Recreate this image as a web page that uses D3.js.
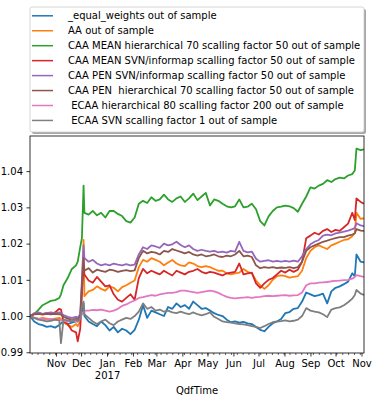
<!DOCTYPE html>
<html><head><meta charset="utf-8">
<script src="https://cdn.jsdelivr.net/npm/d3@7"></script>
<style>
html,body{margin:0;padding:0;background:#fff;}
text{font-family:"DejaVu Sans",sans-serif;font-size:10px;fill:#000;}
</style></head>
<body>
<svg id="chart" width="387" height="401"></svg>
<script>
const dates = ["2016-10-01","2016-10-06","2016-10-11","2016-10-16","2016-10-21","2016-10-26","2016-10-31","2016-11-05","2016-11-07","2016-11-10",
"2016-11-15","2016-11-20","2016-11-25","2016-11-27","2016-11-30","2016-12-02","2016-12-04","2016-12-05","2016-12-10","2016-12-15",
"2016-12-20","2016-12-25","2016-12-30","2017-01-04","2017-01-09","2017-01-14","2017-01-19","2017-01-24","2017-01-29","2017-02-03",
"2017-02-08","2017-02-13","2017-02-18","2017-02-23","2017-02-28","2017-03-05","2017-03-10","2017-03-15","2017-03-20","2017-03-25",
"2017-03-30","2017-04-04","2017-04-09","2017-04-14","2017-04-19","2017-04-24","2017-04-29","2017-05-04","2017-05-09","2017-05-14",
"2017-05-19","2017-05-24","2017-05-29","2017-06-03","2017-06-08","2017-06-13","2017-06-18","2017-06-23","2017-06-28","2017-07-03",
"2017-07-08","2017-07-13","2017-07-18","2017-07-23","2017-07-28","2017-08-02","2017-08-07","2017-08-12","2017-08-17","2017-08-22",
"2017-08-27","2017-09-01","2017-09-06","2017-09-11","2017-09-16","2017-09-21","2017-09-26","2017-10-01","2017-10-06","2017-10-11",
"2017-10-16","2017-10-21","2017-10-24","2017-10-26","2017-10-31","2017-11-04"];

const equalWeights = [1.0000,0.9985,0.9978,0.9975,0.9970,0.9972,0.9968,0.9975,0.9980,0.9985,
0.9978,0.9982,0.9985,0.9988,0.9990,1.0010,1.0035,1.0000,0.9985,0.9978,
0.9972,0.9985,0.9975,0.9960,0.9970,0.9955,0.9965,0.9960,0.9950,0.9962,
0.9990,1.0030,0.9995,1.0015,1.0010,1.0005,1.0000,1.0025,1.0020,1.0035,
1.0025,1.0030,1.0020,1.0040,1.0030,1.0020,1.0022,1.0015,1.0008,1.0003,
1.0000,0.9990,0.9983,0.9985,0.9982,0.9984,0.9980,0.9978,0.9970,0.9962,
0.9958,0.9970,0.9980,0.9985,0.9992,1.0008,1.0011,1.0020,1.0022,1.0040,
1.0065,1.0060,1.0055,1.0058,1.0062,1.0035,1.0068,1.0078,1.0082,1.0088,
1.0095,1.0118,1.0110,1.0170,1.0150,1.0148];

const aa = [1.0000,0.9995,0.9992,0.9995,0.9993,0.9990,0.9993,0.9995,0.9992,0.9982,
0.9975,0.9970,0.9978,0.9972,0.9985,1.0080,1.0210,1.0055,1.0068,1.0072,
1.0082,1.0075,1.0070,1.0082,1.0078,1.0068,1.0080,1.0085,1.0092,1.0098,
1.0135,1.0155,1.0150,1.0160,1.0155,1.0150,1.0140,1.0148,1.0155,1.0145,
1.0140,1.0138,1.0148,1.0145,1.0138,1.0135,1.0138,1.0135,1.0130,1.0125,
1.0125,1.0118,1.0115,1.0118,1.0120,1.0130,1.0122,1.0118,1.0098,1.0085,
1.0075,1.0085,1.0100,1.0110,1.0112,1.0110,1.0106,1.0108,1.0110,1.0125,
1.0160,1.0180,1.0190,1.0195,1.0190,1.0185,1.0195,1.0200,1.0205,1.0210,
1.0212,1.0220,1.0230,1.0285,1.0268,1.0270];

const caaMeanHier = [1.0000,1.0005,1.0017,1.0030,1.0036,1.0042,1.0044,1.0050,1.0060,1.0085,
1.0105,1.0130,1.0140,1.0150,1.0190,1.0215,1.0360,1.0285,1.0280,1.0290,
1.0278,1.0285,1.0272,1.0290,1.0290,1.0282,1.0276,1.0262,1.0258,1.0272,
1.0310,1.0318,1.0312,1.0328,1.0318,1.0322,1.0335,1.0322,1.0315,1.0325,
1.0330,1.0315,1.0325,1.0338,1.0320,1.0330,1.0340,1.0305,1.0322,1.0318,
1.0310,1.0303,1.0300,1.0303,1.0322,1.0300,1.0302,1.0310,1.0295,1.0262,
1.0250,1.0275,1.0290,1.0300,1.0302,1.0305,1.0303,1.0298,1.0288,1.0310,
1.0330,1.0355,1.0352,1.0360,1.0365,1.0375,1.0370,1.0378,1.0382,1.0380,
1.0388,1.0392,1.0402,1.0462,1.0458,1.0460];

const caaMeanSvn = [1.0000,1.0005,1.0008,1.0005,1.0008,1.0005,1.0010,1.0020,1.0018,0.9985,
0.9978,0.9960,0.9955,0.9930,0.9965,1.0060,1.0140,1.0115,1.0098,1.0092,
1.0108,1.0095,1.0082,1.0085,1.0060,1.0045,1.0040,1.0050,1.0060,1.0045,
1.0105,1.0130,1.0118,1.0125,1.0120,1.0115,1.0125,1.0118,1.0112,1.0125,
1.0120,1.0115,1.0122,1.0125,1.0130,1.0122,1.0118,1.0122,1.0120,1.0116,
1.0112,1.0118,1.0120,1.0122,1.0145,1.0115,1.0118,1.0120,1.0090,1.0078,
1.0090,1.0100,1.0105,1.0115,1.0125,1.0120,1.0128,1.0122,1.0128,1.0150,
1.0215,1.0222,1.0230,1.0225,1.0235,1.0240,1.0232,1.0238,1.0235,1.0245,
1.0255,1.0285,1.0265,1.0325,1.0315,1.0310];

const caaPenSvn = [1.0000,1.0008,1.0010,1.0006,1.0008,1.0010,1.0008,1.0010,1.0008,1.0003,
0.9998,0.9995,0.9998,0.9995,1.0005,1.0100,1.0195,1.0160,1.0150,1.0155,
1.0145,1.0140,1.0143,1.0140,1.0145,1.0142,1.0140,1.0143,1.0140,1.0142,
1.0170,1.0190,1.0185,1.0195,1.0192,1.0188,1.0200,1.0195,1.0198,1.0205,
1.0196,1.0190,1.0195,1.0185,1.0180,1.0183,1.0180,1.0178,1.0180,1.0176,
1.0178,1.0175,1.0180,1.0178,1.0205,1.0180,1.0176,1.0178,1.0158,1.0150,
1.0152,1.0154,1.0150,1.0152,1.0150,1.0152,1.0150,1.0153,1.0150,1.0165,
1.0185,1.0198,1.0205,1.0210,1.0222,1.0225,1.0223,1.0228,1.0230,1.0233,
1.0236,1.0240,1.0243,1.0256,1.0250,1.0248];

const caaPenHier = [1.0000,1.0005,1.0006,1.0004,1.0006,1.0005,1.0006,1.0005,1.0004,0.9998,
0.9993,0.9990,0.9992,0.9990,1.0000,1.0080,1.0160,1.0125,1.0132,1.0120,
1.0128,1.0125,1.0122,1.0128,1.0126,1.0122,1.0125,1.0127,1.0124,1.0126,
1.0160,1.0180,1.0173,1.0177,1.0175,1.0170,1.0180,1.0177,1.0185,1.0181,
1.0177,1.0173,1.0177,1.0170,1.0167,1.0170,1.0165,1.0167,1.0170,1.0165,
1.0163,1.0167,1.0165,1.0170,1.0180,1.0165,1.0167,1.0163,1.0140,1.0132,
1.0135,1.0133,1.0135,1.0132,1.0134,1.0133,1.0135,1.0132,1.0135,1.0150,
1.0180,1.0190,1.0195,1.0200,1.0205,1.0208,1.0212,1.0215,1.0218,1.0218,
1.0222,1.0225,1.0228,1.0240,1.0236,1.0235];

const ecaaHier = [1.0000,0.9995,0.9993,0.9992,0.9990,0.9992,0.9990,0.9988,0.9990,0.9986,
0.9985,0.9988,0.9985,0.9984,0.9992,1.0005,1.0012,1.0015,1.0015,1.0017,
1.0016,1.0018,1.0015,1.0012,1.0015,1.0020,1.0028,1.0032,1.0038,1.0043,
1.0050,1.0052,1.0055,1.0058,1.0056,1.0060,1.0062,1.0064,1.0064,1.0066,
1.0070,1.0070,1.0068,1.0066,1.0064,1.0066,1.0068,1.0070,1.0068,1.0064,
1.0058,1.0053,1.0050,1.0049,1.0050,1.0051,1.0052,1.0050,1.0052,1.0053,
1.0055,1.0056,1.0055,1.0056,1.0057,1.0058,1.0056,1.0057,1.0058,1.0065,
1.0085,1.0090,1.0090,1.0092,1.0093,1.0094,1.0096,1.0097,1.0098,1.0099,
1.0100,1.0103,1.0108,1.0113,1.0110,1.0108];

const ecaaSvn = [1.0000,0.9995,0.9990,0.9988,0.9985,0.9987,0.9990,0.9988,0.9925,0.9990,
0.9988,0.9985,0.9990,0.9986,0.9992,1.0025,1.0040,1.0005,0.9995,0.9985,
0.9978,0.9985,0.9990,0.9980,0.9975,0.9985,0.9990,0.9995,0.9992,1.0000,
1.0012,1.0035,1.0020,1.0025,1.0015,1.0018,1.0012,1.0015,1.0010,1.0008,
1.0012,1.0008,1.0005,1.0010,1.0005,1.0002,1.0005,1.0010,0.9998,0.9992,
0.9985,0.9983,0.9982,0.9980,0.9978,0.9977,0.9975,0.9972,0.9970,0.9967,
0.9972,0.9978,0.9983,0.9985,0.9986,0.9988,0.9985,0.9987,0.9990,1.0000,
1.0022,1.0015,1.0012,1.0010,1.0005,0.9997,1.0018,1.0022,1.0024,1.0030,
1.0038,1.0048,1.0058,1.0072,1.0062,1.0058];

const seriesNames = ["_equal_weights out of sample","AA out of sample",
"CAA MEAN hierarchical 70 scalling factor 50 out of sample",
"CAA MEAN SVN/informap scalling factor 50 out of sample",
"CAA PEN SVN/informap scalling factor 50 out of sample",
"CAA PEN  hierarchical 70 scalling factor 50 out of sample",
" ECAA hierarchical 80 scalling factor 200 out of sample",
" ECAA SVN scalling factor 1 out of sample"];
const seriesValues = [equalWeights, aa, caaMeanHier, caaMeanSvn, caaPenSvn, caaPenHier, ecaaHier, ecaaSvn];
const colors = ["#1f77b4","#ff7f0e","#2ca02c","#d62728","#9467bd","#8c564b","#e377c2","#7f7f7f"];
const yTicks = [0.99, 1.00, 1.01, 1.02, 1.03, 1.04];
const xLabel = "QdfTime";

const parse = d3.timeParse("%Y-%m-%d");
const dts = dates.map(parse);

const svg = d3.select("#chart");
const L = 30, R = 364, T = 136, B = 353;

const x = d3.scaleTime().domain(d3.extent(dts)).range([L, R]);
const y = d3.scaleLinear().domain([0.9898, 1.0497]).range([B, T]);

svg.append("rect").attr("width",387).attr("height",401).attr("fill","#fff");

svg.append("defs").append("clipPath").attr("id","clip")
  .append("rect").attr("x",L).attr("y",T).attr("width",R-L).attr("height",B-T);

const line = d3.line().x((d,i)=>x(dts[i])).y(d=>y(d));
const g = svg.append("g").attr("clip-path","url(#clip)");
seriesValues.forEach((vals,k)=>{
  g.append("path").attr("d",line(vals)).attr("fill","none")
   .attr("stroke",colors[k]).attr("stroke-width",1.8).attr("stroke-linejoin","round");
});

// y axis
const yAxis = d3.axisLeft(y).tickValues(yTicks).tickFormat(d3.format(".2f")).tickSize(3.5).tickPadding(3.5);
const ya = svg.append("g").attr("transform",`translate(${L},0)`).call(yAxis);
ya.select(".domain").remove();
ya.selectAll("line").attr("stroke","#000").attr("stroke-width",0.8);
ya.selectAll("text").attr("font-family","DejaVu Sans").attr("font-size",10).attr("fill","#000");

// x axis minor (week starts)
const minor = d3.timeMonday.range(x.domain()[0], x.domain()[1]);
const xMinor = d3.axisBottom(x).tickValues(minor).tickSize(2).tickFormat("");
const xm = svg.append("g").attr("transform",`translate(0,${B})`).call(xMinor);
xm.select(".domain").remove();
xm.selectAll("line").attr("stroke","#000").attr("stroke-width",0.6);

// x axis major (month starts after the first sample)
const majors = d3.timeMonth.range(d3.timeDay.offset(x.domain()[0], 1), x.domain()[1]);
const fmtM = d3.timeFormat("%b");
const xAxis = d3.axisBottom(x).tickValues(majors).tickSize(3.5).tickPadding(3.5).tickFormat(fmtM);
const xa = svg.append("g").attr("transform",`translate(0,${B})`).call(xAxis);
xa.select(".domain").remove();
xa.selectAll("line").attr("stroke","#000").attr("stroke-width",0.8);
xa.selectAll("text").attr("font-family","DejaVu Sans").attr("font-size",10).attr("fill","#000")
  .each(function(d){
    if (d.getMonth()===0){
      const t = d3.select(this);
      t.text(null);
      t.append("tspan").attr("x",0).text(fmtM(d));
      t.append("tspan").attr("x",0).attr("dy","1.15em").text(d.getFullYear());
    }
  });

// spines
svg.append("rect").attr("x",L).attr("y",T).attr("width",R-L).attr("height",B-T)
  .attr("fill","none").attr("stroke","#000").attr("stroke-width",0.8);

// x label
svg.append("text").attr("x",(L+R)/2).attr("y",394).attr("text-anchor","middle").text(xLabel);

// legend
const lg = svg.append("g");
lg.append("rect").attr("x",32).attr("y",9).attr("width",334).attr("height",125).attr("rx",2)
  .attr("fill","#a6a6a6");
lg.append("rect").attr("x",30).attr("y",7).attr("width",334).attr("height",125).attr("rx",2)
  .attr("fill","#fff").attr("stroke","#cccccc").attr("stroke-width",0.8);
seriesNames.forEach((name,k)=>{
  const cy = 15.8 + k*14.95;
  lg.append("line").attr("x1",32).attr("x2",53).attr("y1",cy).attr("y2",cy)
    .attr("stroke",colors[k]).attr("stroke-width",1.5);
  lg.append("text").attr("x",68).attr("y",cy+3.6).style("white-space","pre").text(name);
});
</script>
</body></html>
